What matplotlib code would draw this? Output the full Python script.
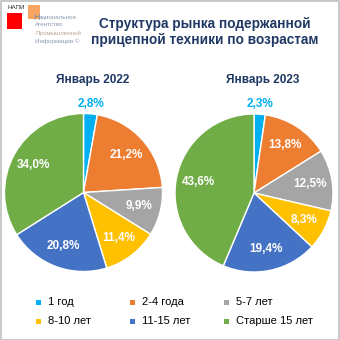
import matplotlib.pyplot as plt
from matplotlib.patches import Rectangle
import numpy as np

plt.rcParams['font.family'] = ['Liberation Sans', 'DejaVu Sans']

W = H = 340

categories = ["1 год", "2-4 года", "5-7 лет", "8-10 лет", "11-15 лет", "Старше 15 лет"]
colors = ["#00B0F0", "#ED7D31", "#A5A5A5", "#FFC000", "#4472C4", "#70AD47"]
years = ["Январь 2022", "Январь 2023"]
share_2022 = [2.8, 21.2, 9.9, 11.4, 20.8, 34.0]
share_2023 = [2.3, 13.8, 12.5, 8.3, 19.4, 43.6]

NAVY = "#1F3864"


def fx(x):
    return x / W


def fy(y):
    return 1 - y / H


fig = plt.figure(figsize=(3.4, 3.4), dpi=100)
fig.patch.set_facecolor("white")

# frame
fig.add_artist(Rectangle((fx(0.5), fy(339.5)), fx(338.5), 338.5 / H, transform=fig.transFigure,
                         fill=False, edgecolor="#BFBFBF", linewidth=1.2))

# logo
fig.add_artist(Rectangle((fx(7), fy(29)), fx(15), 16 / H, transform=fig.transFigure,
                         facecolor="#FF0000", edgecolor="none"))
fig.add_artist(Rectangle((fx(28), fy(19)), fx(12), 14 / H, transform=fig.transFigure,
                         facecolor="#F79646", edgecolor="none", alpha=0.85))
logo_c = "#8A9BB0"
fig.text(fx(7), fy(7.5), "НАПИ", fontsize=4.5, color="#333333", va="center", ha="left")
fig.text(fx(33), fy(17.5), "Н", fontsize=6.5, color="#7F8C9C", va="center", ha="left")
fig.text(fx(38.5), fy(18), "ациональное", fontsize=4.5, color=logo_c, va="center", ha="left")
fig.text(fx(35), fy(25), "Агентство", fontsize=4.5, color=logo_c, va="center", ha="left")
fig.text(fx(35), fy(33), "Промышленной", fontsize=4.5, color="#B9A58E", va="center", ha="left")
fig.text(fx(35), fy(41), "Информации ©", fontsize=4.5, color=logo_c, va="center", ha="left")

# title
fig.text(fx(205), fy(32), "Структура рынка подержанной\nприцепной техники по возрастам",
         fontsize=9.8, fontweight="bold", color=NAVY, ha="center", va="center", linespacing=1.25)

# pies
centers = [(83.5, 192.5), (254, 193)]
R = 79
for (cx, cy), title, vals in zip(centers, years, [share_2022, share_2023]):
    ax = fig.add_axes([fx(cx - R), fy(cy + R), 2 * R / W, 2 * R / H])
    wedges, texts, autotexts = ax.pie(
        vals, colors=colors, startangle=90, counterclock=False, radius=1,
        autopct=lambda p: "", pctdistance=0.72,
        wedgeprops=dict(edgecolor="white", linewidth=1.0))
    for w, t, v in zip(wedges, autotexts, vals):
        t.set_text(f"{v:.1f}%".replace(".", ","))
        t.set_color("white")
        t.set_fontsize(8.5)
        t.set_fontweight("bold")
    # first slice label outside
    w0 = wedges[0]
    ang = np.deg2rad((w0.theta1 + w0.theta2) / 2)
    autotexts[0].set_position((1.13 * np.cos(ang), 1.13 * np.sin(ang)))
    autotexts[0].set_color(colors[0])
    ax.set_xlim(-1, 1)
    ax.set_ylim(-1, 1)
    fig.text(fx(cx + 9), fy(80), title, fontsize=8.5, fontweight="bold", color=NAVY,
             ha="center", va="center")

# legend
for i, (cat, col) in enumerate(zip(categories, colors)):
    r, c = divmod(i, 3)
    x = 36 + c * 94
    y = 302 + r * 19
    fig.add_artist(Rectangle((fx(x), fy(y + 2.5)), fx(5), 5 / H, transform=fig.transFigure,
                             facecolor=col, edgecolor="none"))
    fig.text(fx(x + 12), fy(y), cat, fontsize=8, color="black", ha="left", va="center")

fig.savefig("out.png", dpi=100)
